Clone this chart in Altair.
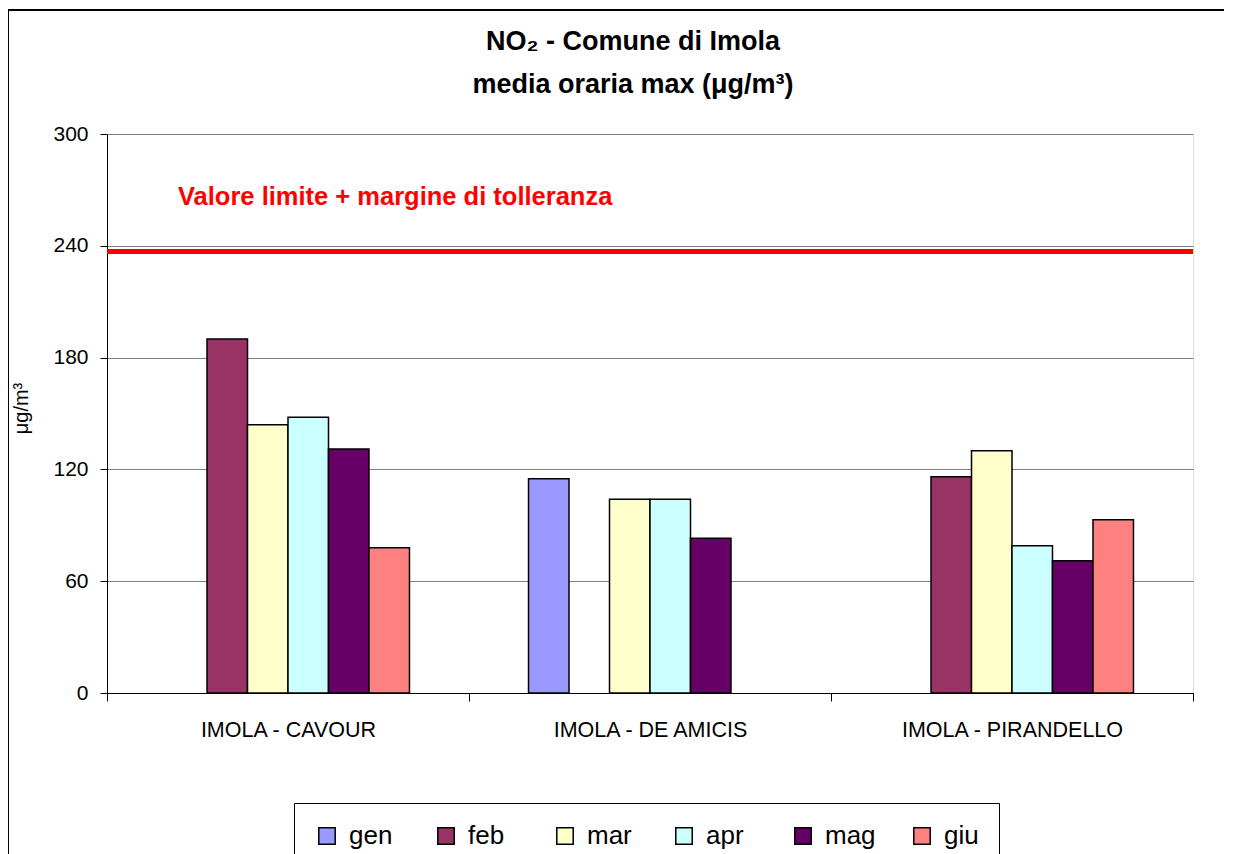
import altair as alt
import pandas as pd

months = ["gen", "feb", "mar", "apr", "mag", "giu"]
stations = ["IMOLA - CAVOUR", "IMOLA - DE AMICIS", "IMOLA - PIRANDELLO"]
cavour = [None, 190, 144, 148, 131, 78]
de_amicis = [115, None, 104, 104, 83, None]
pirandello = [None, 116, 130, 79, 71, 93]
colors = ["#9999FF", "#993366", "#FFFFCC", "#CCFFFF", "#660066", "#FF8080"]
limit_value = [237]
limit_label = ["Valore limite + margine di tolleranza"]
label_y = [262]
y_ticks = [0, 60, 120, 180, 240, 300]

rows = []
for st, vals in zip(stations, [cavour, de_amicis, pirandello]):
    for m, v in zip(months, vals):
        rows.append({"stazione": st, "mese": m, "valore": v})
df = pd.DataFrame(rows)

FONT = "Liberation Sans"
# empty slots at both ends of each station group (gap between groups)
offset_domain = ["_inizio"] + months + ["_fine"]

bars = alt.Chart(df).mark_bar(stroke="black", strokeWidth=1.5).encode(
    x=alt.X("stazione:N", sort=stations,
            scale=alt.Scale(paddingInner=0, paddingOuter=0),
            axis=alt.Axis(title=None, labelAngle=0, labelFontSize=21.5, labelFont=FONT,
                          labelColor="black", labelLimit=0, tickBand="extent", tickSize=8,
                          tickColor="black", domainColor="black", labelPadding=18,
                          grid=False)),
    xOffset=alt.XOffset("mese:N",
                        scale=alt.Scale(domain=offset_domain, paddingInner=0, paddingOuter=0.47)),
    y=alt.Y("valore:Q", scale=alt.Scale(domain=[0, 300], nice=False),
            axis=alt.Axis(title="μg/m³", values=y_ticks, labelFontSize=21, labelFont=FONT,
                          labelColor="black", tickSize=7, tickColor="black",
                          domainColor="black", labelPadding=12,
                          gridColor="#808080", gridWidth=1,
                          titleFontSize=20, titleFont=FONT, titleFontWeight="normal",
                          titleColor="black", titleX=-76, titleY=274)),
    color=alt.Color("mese:N", sort=months,
                    scale=alt.Scale(domain=months, range=colors),
                    legend=alt.Legend(title=None, orient="none", legendX=187, legendY=669,
                                      direction="horizontal", columns=6, gridAlign="all",
                                      columnPadding=33, symbolType="square",
                                      symbolSize=270, symbolStrokeColor="black",
                                      symbolStrokeWidth=1.5, labelFontSize=26,
                                      labelFont=FONT, labelColor="black", labelOffset=9,
                                      padding=20, strokeColor="black", fillColor="white")),
)

limit_df = pd.DataFrame({"y": limit_value})
rule = alt.Chart(limit_df).mark_rule(color="#FF0000", strokeWidth=5).encode(y="y:Q")

lab_df = pd.DataFrame({"y": label_y, "t": limit_label})
label = alt.Chart(lab_df).mark_text(
    color="#FF0000", fontSize=25.5, fontWeight="bold", font=FONT, align="left",
    baseline="alphabetic"
).encode(x=alt.value(71), y="y:Q", text="t:N")

frame_left = alt.Chart(limit_df).mark_rule(color="black", strokeWidth=2).encode(
    x=alt.value(-99), y=alt.value(-124), y2=alt.value(760))
frame_top = alt.Chart(limit_df).mark_rule(color="black", strokeWidth=2).encode(
    x=alt.value(-99), x2=alt.value(1140), y=alt.value(-124))

chart = alt.layer(bars, rule, label, frame_left, frame_top).properties(
    width=1086, height=559,
    title=alt.TitleParams(text=["NO₂ - Comune di Imola", "media oraria max  (μg/m³)"],
                          fontSize=27, fontWeight="bold", font=FONT, color="black",
                          lineHeight=43, anchor="middle", frame="group", dx=-17,
                          offset=-90),
    padding={"left": 99, "top": 126, "right": 31, "bottom": 170},
    autosize=alt.AutoSizeParams(type="none"),
).configure_view(stroke="#808080", strokeWidth=1).configure(background="white")

chart.save("out.html", embed_options={"renderer": "svg", "actions": False})
